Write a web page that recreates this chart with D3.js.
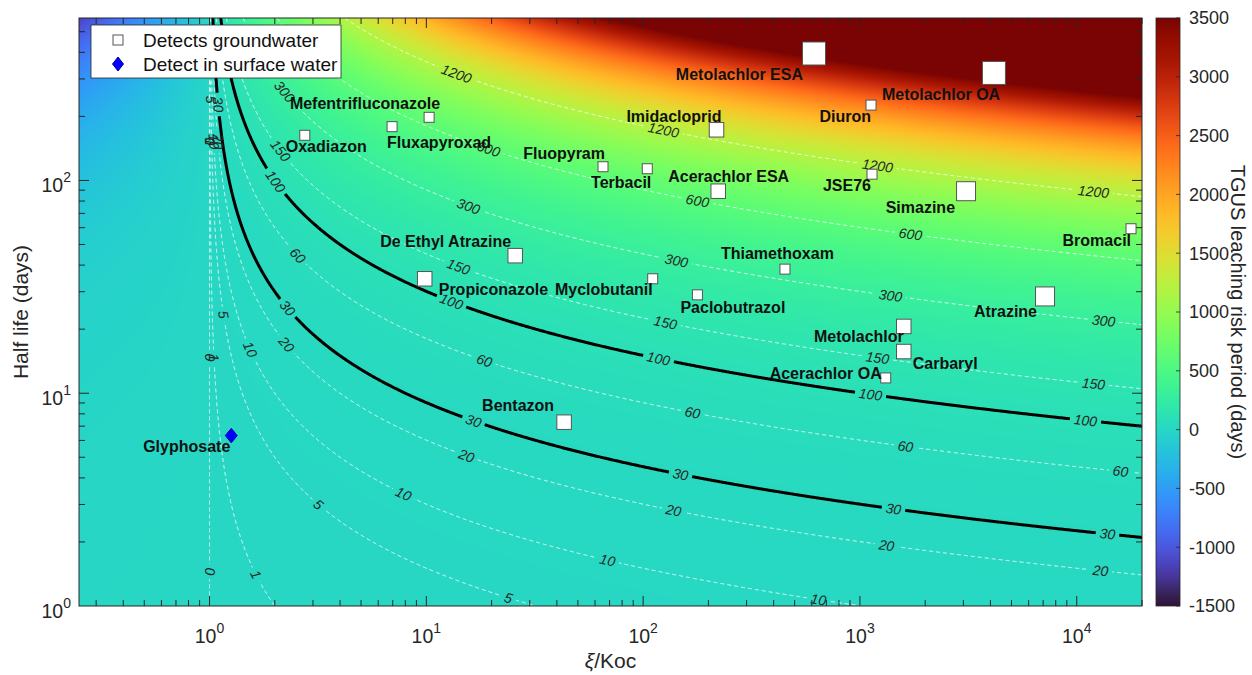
<!DOCTYPE html>
<html>
<head>
<meta charset="utf-8">
<script src="https://cdn.jsdelivr.net/npm/d3@7"></script>
<style>
  html, body { margin: 0; padding: 0; background: #fff; }
  svg { display: block; font-family: "Liberation Sans", Arial, Helvetica, sans-serif; }
</style>
</head>
<body>
<svg id="chart" width="1252" height="675"></svg>
<script>
// ---------------- data ----------------
const compounds = [
  "Metolachlor ESA", "Metolachlor OA", "Diuron", "Mefentrifluconazole", "Oxadiazon",
  "Fluxapyroxad", "Imidacloprid", "Fluopyram", "Terbacil", "Acerachlor ESA",
  "JSE76", "Simazine", "Bromacil", "De Ethyl Atrazine", "Propiconazole",
  "Myclobutanil", "Thiamethoxam", "Paclobutrazol", "Atrazine", "Metolachlor",
  "Carbaryl", "Acerachlor OA", "Bentazon", "Glyphosate"
];
// ξ/Koc of each compound
const ratioKoc = [
  614, 4150, 1125, 10.3, 2.75,
  6.95, 218, 65.3, 104.5, 222,
  1137, 3086, 17800, 25.7, 9.83,
  110.7, 451, 178, 7140, 1593,
  1593, 1315, 43.2, 1.26
];
// soil half life (days)
const halfLife = [
  395, 320, 226, 198, 163,
  179, 173, 116, 113.5, 89,
  107, 89, 59.3, 44.3, 34.5,
  34.5, 38.3, 29, 28.5, 20.6,
  15.7, 11.8, 7.31, 6.32
];
// detection class (1 = few detections ... 4 = many)
const detectionClass = [
  4, 4, 1, 1, 1,
  1, 2, 1, 1, 2,
  1, 3, 1, 2, 2,
  1, 1, 1, 3, 2,
  2, 1, 2, 2
];
const detectedIn = compounds.map(c => c === "Glyphosate" ? "surface" : "ground");

// contour levels of the leaching risk period (days)
const dashedLevels = [0, 1, 5, 10, 20, 60, 150, 300, 600, 1200];
const boldLevels = [30, 100];
const colorTicks = [-1500, -1000, -500, 0, 500, 1000, 1500, 2000, 2500, 3000, 3500];
const xMajor = [1, 10, 100, 1000, 10000];
const yMajor = [1, 10, 100];

// TGUS leaching risk period = half life x log2(ξ/Koc)
const tgus = (ratio, t) => t * Math.log2(ratio);

// ---------------- layout ----------------
// label placement around each marker: [anchor, dx, dy] in px (baseline)
const labelPlacement = [
  ["end", -11, 27], ["start", -112, 27.5], ["end", 0, 16.5], ["end", 11, -8], ["start", -19, 17],
  ["start", -5, 21], ["end", 5, -8], ["end", 2, -8], ["end", 4, 19], ["start", -50, -9.5],
  ["end", -1, 16.5], ["end", -11, 22], ["end", 0, 17], ["end", -4, -9], ["start", 14, 16],
  ["end", 0, 16], ["start", -64, -10], ["start", -17, 18], ["end", -8, 20.5], ["end", 0, 16],
  ["start", 9, 17], ["end", -4, 1], ["end", -10, -11], ["end", -1, 16]
];
// where contour labels sit (near these [ξ/Koc, half life] spots)
const contourLabelSpots = {
  0:    [[1, 152], [1, 14.7], [1, 1.45]],
  1:    [[1.0046, 152], [1.048, 14.7], [1.64, 1.4]],
  5:    [[1.0145, 240], [1.16, 23.4], [3.19, 2.99], [23.6, 1.04]],
  10:   [[1.047, 152], [1.52, 16], [7.72, 3.25], [68.2, 1.59], [641, 1.04]],
  20:   [[1.095, 152], [2.18, 16.5], [15.1, 4.91], [137, 2.74], [1319, 1.87], [12800, 1.41]],
  30:   [[1.096, 227], [2.25, 24.7], [16.3, 7.18], [148, 4.0], [1422, 2.77], [13800, 2.11]],
  60:   [[1.119, 370], [2.5, 43.3], [18.3, 13.9], [168, 7.9], [1615, 5.4], [15800, 4.13]],
  100:  [[1.94, 95.5], [12.9, 26], [117, 14], [1113, 9.5], [10900, 7.2]],
  150:  [[2.09, 136], [13.9, 38], [126, 21], [1200, 14], [11900, 10.7]],
  300:  [[2.23, 261], [15.4, 72.8], [142, 41], [1377, 27.8], [13200, 21]],
  600:  [[19.1, 136], [177, 78.5], [1703, 53.8]],
  1200: [[13.6, 307], [124, 169], [1200, 113], [11900, 85.7]]
};

const W = 1252, H = 675;
const M = { left: 79, top: 18, right: 1142, bottom: 606 };
const TXT = "#262626";

const x = d3.scaleLog().domain([0.25, 2e4]).range([M.left, M.right]);
const y = d3.scaleLog().domain([1, 580]).range([M.bottom, M.top]);

// turbo colour map with its dark purple / dark red ends
function turboMap(t) {
  t = Math.max(0, Math.min(1, t));
  if (t < 0.02) return d3.interpolateRgb("#30123b", d3.interpolateTurbo(0.02))(t / 0.02);
  if (t > 0.95) return d3.interpolateRgb(d3.interpolateTurbo(0.95), "#7a0403")((t - 0.95) / 0.05);
  return d3.interpolateTurbo(t);
}
const color = d3.scaleSequential(turboMap).domain([colorTicks[0], colorTicks[colorTicks.length - 1]]).clamp(true);
const size = d3.scaleOrdinal().domain([1, 2, 3, 4]).range([10, 14.5, 19, 23]);

const svg = d3.select("#chart");
const defs = svg.append("defs");
defs.append("clipPath").attr("id", "plot-clip")
  .append("rect").attr("x", M.left).attr("y", M.top)
  .attr("width", M.right - M.left).attr("height", M.bottom - M.top);

// ---------------- field grid ----------------
const pw = M.right - M.left, ph = M.bottom - M.top;
const nx = Math.round(pw), ny = Math.round(ph);
const gx = d3.scaleLinear().domain([0, nx]).range([M.left, M.right]);
const gy = d3.scaleLinear().domain([0, ny]).range([M.top, M.bottom]);
const field = new Float64Array(nx * ny);
const colX = d3.range(nx).map(i => x.invert(gx(i + 0.5)));
for (let j = 0; j < ny; j++) {
  const t = y.invert(gy(j + 0.5));
  for (let i = 0; i < nx; i++) field[j * nx + i] = tgus(colX[i], t);
}

// heat map
const [c0, c1] = color.domain();
const lut = d3.range(1024).map(k => d3.rgb(color(c0 + k / 1023 * (c1 - c0))));
const canvas = document.createElement("canvas");
canvas.width = nx; canvas.height = ny;
const ctx = canvas.getContext("2d");
const img = ctx.createImageData(nx, ny);
for (let k = 0; k < nx * ny; k++) {
  const t = (field[k] - c0) / (c1 - c0);
  const c = lut[Math.max(0, Math.min(1023, Math.round(t * 1023)))];
  img.data[4 * k] = c.r; img.data[4 * k + 1] = c.g; img.data[4 * k + 2] = c.b; img.data[4 * k + 3] = 255;
}
ctx.putImageData(img, 0, 0);
svg.append("image")
  .attr("href", canvas.toDataURL())
  .attr("x", M.left).attr("y", M.top).attr("width", pw).attr("height", ph)
  .attr("preserveAspectRatio", "none");

// ---------------- contours ----------------
const contourGen = d3.contours().size([nx, ny]);

// open iso-lines from contour polygons (drop the parts running along the grid border)
function isolines(geom) {
  const out = [];
  const onB = p => p[0] <= 0 || p[0] >= nx || p[1] <= 0 || p[1] >= ny;
  for (const poly of geom.coordinates) for (const ring of poly) {
    const N = ring.length - 1;
    let s = -1;
    for (let k = 0; k < N; k++) if (onB(ring[k]) && onB(ring[(k + 1) % N])) { s = k + 1; break; }
    if (s < 0) { out.push(ring.slice()); continue; }
    let cur = [];
    for (let k = 0; k < N; k++) {
      const a = ring[(s + k) % N], b = ring[(s + k + 1) % N];
      if (onB(a) && onB(b)) { if (cur.length > 1) out.push(cur); cur = []; }
      else { if (!cur.length) cur.push(a); cur.push(b); }
    }
    if (cur.length > 1) out.push(cur);
  }
  return out.map(l => l.map(p => [gx(p[0]), gy(p[1])]));
}

function labelsFor(level, lines) {
  const spots = contourLabelSpots[level] || [];
  const res = [];
  for (const [sx, sy] of spots) {
    const tx = x(sx), ty = y(sy);
    let best = null, bd = Infinity;
    for (const line of lines) for (let i = 0; i < line.length; i++) {
      const d = (line[i][0] - tx) ** 2 + (line[i][1] - ty) ** 2;
      if (d < bd) { bd = d; best = { line, i }; }
    }
    if (!best) continue;
    const { line, i } = best;
    const dist = (p, q) => Math.hypot(p[0] - q[0], p[1] - q[1]);
    let a = i, b = i;
    while (a > 0 && dist(line[a], line[i]) < 6) a--;
    while (b < line.length - 1 && dist(line[b], line[i]) < 6) b++;
    let ang = Math.atan2(line[b][1] - line[a][1], line[b][0] - line[a][0]) * 180 / Math.PI;
    if (ang > 90) ang -= 180;
    if (ang <= -90) ang += 180;
    res.push({ x: line[i][0], y: line[i][1], ang, text: String(level) });
  }
  return res;
}

const lineGen = d3.line();
const contourLayer = svg.append("g").attr("clip-path", "url(#plot-clip)");
const labelLayer = svg.append("g").attr("clip-path", "url(#plot-clip)");
const allLevels = dashedLevels.map(l => ({ level: l, bold: false }))
  .concat(boldLevels.map(l => ({ level: l, bold: true })));

allLevels.forEach(({ level, bold }, k) => {
  const lines = isolines(contourGen.contour(field, level));
  const labs = labelsFor(level, lines);
  const mask = defs.append("mask").attr("id", "gap-" + k)
    .attr("maskUnits", "userSpaceOnUse").attr("x", 0).attr("y", 0).attr("width", W).attr("height", H);
  mask.append("rect").attr("width", W).attr("height", H).attr("fill", "#fff");
  mask.selectAll("rect.gap").data(labs).join("rect").attr("class", "gap")
    .attr("x", d => -(d.text.length * 7.8 + 8) / 2).attr("y", -7)
    .attr("width", d => d.text.length * 7.8 + 8).attr("height", 14)
    .attr("transform", d => `translate(${d.x},${d.y}) rotate(${d.ang})`)
    .attr("fill", "#000");
  contourLayer.append("g").attr("mask", `url(#gap-${k})`)
    .selectAll("path").data(lines).join("path")
    .attr("d", lineGen)
    .attr("fill", "none")
    .attr("stroke", bold ? "#000" : "#fff")
    .attr("stroke-opacity", bold ? 1 : 0.85)
    .attr("stroke-width", bold ? 3 : 1)
    .attr("stroke-dasharray", bold ? null : "4,3")
    .attr("stroke-linejoin", "round");
  labelLayer.selectAll(null).data(labs).join("text")
    .attr("transform", d => `translate(${d.x},${d.y}) rotate(${d.ang})`)
    .attr("text-anchor", "middle").attr("dy", "0.35em")
    .attr("font-size", 14).attr("font-style", "italic").attr("fill", TXT)
    .text(d => d.text);
});

// ---------------- axes ----------------
const axes = svg.append("g");
const minorX = [], minorY = [];
for (let p = -1; p <= 4; p++) for (let m = 2; m <= 9; m++) {
  const v = m * Math.pow(10, p);
  if (v >= x.domain()[0] && v <= x.domain()[1]) minorX.push(v);
}
for (let p = 0; p <= 2; p++) for (let m = 2; m <= 9; m++) {
  const v = m * Math.pow(10, p);
  if (v <= y.domain()[1]) minorY.push(v);
}
const tickDefs = [
  ...xMajor.map(v => ({ v, len: 10, ax: "x" })), ...minorX.map(v => ({ v, len: 6, ax: "x" })),
  ...yMajor.filter(v => v > 1).map(v => ({ v, len: 10, ax: "y" })), ...minorY.map(v => ({ v, len: 6, ax: "y" }))
];
tickDefs.forEach(t => {
  if (t.ax === "x") {
    const px = x(t.v);
    axes.append("line").attr("x1", px).attr("x2", px).attr("y1", M.bottom).attr("y2", M.bottom - t.len);
    axes.append("line").attr("x1", px).attr("x2", px).attr("y1", M.top).attr("y2", M.top + t.len);
  } else {
    const py = y(t.v);
    axes.append("line").attr("x1", M.left).attr("x2", M.left + t.len).attr("y1", py).attr("y2", py);
    axes.append("line").attr("x1", M.right).attr("x2", M.right - t.len).attr("y1", py).attr("y2", py);
  }
});
axes.selectAll("line").attr("stroke", TXT).attr("stroke-width", 1);
axes.append("rect").attr("x", M.left).attr("y", M.top).attr("width", pw).attr("height", ph)
  .attr("fill", "none").attr("stroke", TXT).attr("stroke-width", 1);

const exp10 = v => String(Math.round(Math.log10(v)));
axes.selectAll("text.xt").data(xMajor).join("text").attr("class", "xt")
  .attr("x", d => x(d)).attr("y", M.bottom + 37)
  .attr("text-anchor", "middle").attr("font-size", 19.5).attr("fill", TXT)
  .each(function (d) {
    d3.select(this).append("tspan").text("10");
    d3.select(this).append("tspan").attr("dy", -10).attr("font-size", 14).text(exp10(d));
  });
axes.selectAll("text.yt").data(yMajor).join("text").attr("class", "yt")
  .attr("x", M.left - 8).attr("y", d => y(d) + 12)
  .attr("text-anchor", "end").attr("font-size", 19.5).attr("fill", TXT)
  .each(function (d) {
    d3.select(this).append("tspan").text("10");
    d3.select(this).append("tspan").attr("dy", -10).attr("font-size", 14).text(exp10(d));
  });

const xl = svg.append("text").attr("x", (M.left + M.right) / 2).attr("y", 668)
  .attr("text-anchor", "middle").attr("font-size", 21).attr("fill", TXT);
xl.append("tspan").attr("font-style", "italic").text("ξ");
xl.append("tspan").text("/Koc");
svg.append("text").attr("transform", `translate(21,${(M.top + M.bottom) / 2}) rotate(-90)`)
  .attr("text-anchor", "middle").attr("dy", "0.35em").attr("font-size", 21).attr("fill", TXT)
  .text("Half life (days)");

// ---------------- markers ----------------
const pts = compounds.map((name, i) => ({
  name, rx: ratioKoc[i], t: halfLife[i], cls: detectionClass[i], where: detectedIn[i], place: labelPlacement[i]
}));
const markLayer = svg.append("g");
const diamond = (cx, cy, w, h) => `M${cx},${cy - h / 2}L${cx + w / 2},${cy}L${cx},${cy + h / 2}L${cx - w / 2},${cy}Z`;
pts.forEach(d => {
  const cx = x(d.rx), cy = y(d.t), s = size(d.cls);
  if (d.where === "ground") {
    markLayer.append("rect").attr("x", cx - s / 2).attr("y", cy - s / 2).attr("width", s).attr("height", s)
      .attr("fill", "#fff").attr("stroke", "#555").attr("stroke-width", 1);
  } else {
    markLayer.append("path").attr("d", diamond(cx, cy, s * 0.82, s)).attr("fill", "#0000ff")
      .attr("stroke", "#0000a0").attr("stroke-width", 1);
  }
});
svg.append("g").selectAll("text").data(pts).join("text")
  .attr("x", d => x(d.rx) + d.place[1]).attr("y", d => y(d.t) + d.place[2])
  .attr("text-anchor", d => d.place[0])
  .attr("font-size", 16).attr("font-weight", "bold").attr("fill", "#111")
  .text(d => d.name);

// ---------------- legend ----------------
const lg = svg.append("g");
lg.append("rect").attr("x", 91).attr("y", 25).attr("width", 250).attr("height", 53)
  .attr("fill", "#fff").attr("stroke", TXT).attr("stroke-width", 0.8);
lg.append("rect").attr("x", 113).attr("y", 35).attr("width", 10).attr("height", 10)
  .attr("fill", "#fff").attr("stroke", "#555").attr("stroke-width", 1);
lg.append("path").attr("d", diamond(118, 64, 11, 14)).attr("fill", "#0000ff")
  .attr("stroke", "#0000a0").attr("stroke-width", 1);
lg.append("text").attr("x", 143).attr("y", 47).attr("font-size", 19).attr("fill", "#111").text("Detects groundwater");
lg.append("text").attr("x", 143).attr("y", 71).attr("font-size", 19).attr("fill", "#111").text("Detect in surface water");

// ---------------- colour bar ----------------
const cb = { x0: 1156, x1: 1180 };
const cy = d3.scaleLinear().domain(color.domain()).range([M.bottom, M.top]);
const grad = defs.append("linearGradient").attr("id", "cbar").attr("x1", 0).attr("x2", 0).attr("y1", 1).attr("y2", 0);
d3.range(0, 1.0001, 0.01).forEach(t => {
  grad.append("stop").attr("offset", t).attr("stop-color", color(c0 + t * (c1 - c0)));
});
svg.append("rect").attr("x", cb.x0).attr("y", M.top).attr("width", cb.x1 - cb.x0).attr("height", ph)
  .attr("fill", "url(#cbar)").attr("stroke", TXT).attr("stroke-width", 0.8);
const cbAxis = svg.append("g");
cbAxis.selectAll("line").data(colorTicks).join("line")
  .attr("x1", cb.x1).attr("x2", cb.x1 - 4).attr("y1", d => cy(d)).attr("y2", d => cy(d))
  .attr("stroke", TXT).attr("stroke-width", 0.8);
cbAxis.selectAll("text").data(colorTicks).join("text")
  .attr("x", cb.x1 + 9).attr("y", d => cy(d)).attr("dy", "0.35em")
  .attr("font-size", 18).attr("fill", TXT).text(d => d);
svg.append("text").attr("transform", `translate(1238,${(M.top + M.bottom) / 2}) rotate(90)`)
  .attr("text-anchor", "middle").attr("dy", "0.35em").attr("font-size", 20).attr("fill", TXT)
  .text("TGUS leaching risk period (days)");
</script>
</body>
</html>
